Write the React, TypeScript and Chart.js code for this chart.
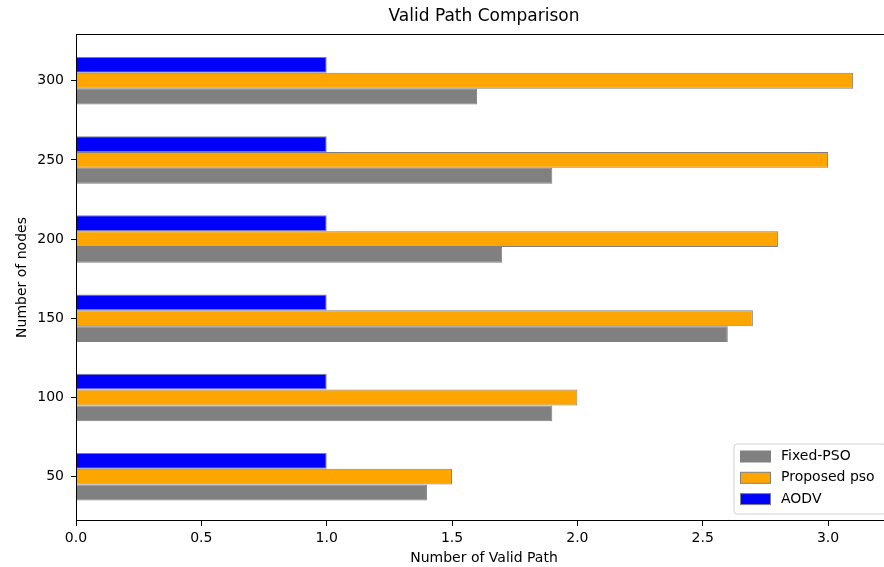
import React, { useEffect, useRef } from "react";
import { Chart, registerables } from "chart.js";

Chart.register(...registerables);

const categories = ["50", "100", "150", "200", "250", "300"];
const fixedPso = [1.4, 1.9, 2.6, 1.7, 1.9, 1.6];
const proposedPso = [1.5, 2.0, 2.7, 2.8, 3.0, 3.1];
const aodv = [1.0, 1.0, 1.0, 1.0, 1.0, 1.0];
const xTicks = [0, 0.5, 1.0, 1.5, 2.0, 2.5, 3.0];

const FONT = "'DejaVu Sans', sans-serif";

const legendItems = [
  { label: "Fixed-PSO", color: "#808080" },
  { label: "Proposed pso", color: "#FFA500" },
  { label: "AODV", color: "#0000FF" },
];

export default function App() {
  const ref = useRef<HTMLCanvasElement | null>(null);

  useEffect(() => {
    if (!ref.current) return;
    const toPts = (arr: number[]) => arr.map((v, i) => ({ x: v, y: i }));

    const decor = {
      id: "decor",
      afterDraw(chart: any) {
        const { ctx, chartArea } = chart;
        const { left, right, top, bottom } = chartArea;
        ctx.save();
        // spines
        ctx.strokeStyle = "#000";
        ctx.lineWidth = 1;
        ctx.strokeRect(left + 0.5, top + 0.5, right - left - 1, bottom - top - 1);
        // title
        ctx.fillStyle = "#000";
        ctx.font = `17px ${FONT}`;
        ctx.textAlign = "center";
        ctx.textBaseline = "middle";
        ctx.fillText("Valid Path Comparison", (left + right) / 2, 17);
        // axis titles
        ctx.font = `14px ${FONT}`;
        ctx.fillText("Number of Valid Path", (left + right) / 2, 558);
        ctx.save();
        ctx.translate(22.5, (top + bottom) / 2);
        ctx.rotate(-Math.PI / 2);
        ctx.fillText("Number of nodes", 0, 0);
        ctx.restore();
        // legend
        const bx = 734, by = 444, bw = 152, bh = 70, r = 3;
        ctx.beginPath();
        ctx.moveTo(bx + r, by);
        ctx.lineTo(bx + bw - r, by);
        ctx.arcTo(bx + bw, by, bx + bw, by + r, r);
        ctx.lineTo(bx + bw, by + bh - r);
        ctx.arcTo(bx + bw, by + bh, bx + bw - r, by + bh, r);
        ctx.lineTo(bx + r, by + bh);
        ctx.arcTo(bx, by + bh, bx, by + bh - r, r);
        ctx.lineTo(bx, by + r);
        ctx.arcTo(bx, by, bx + r, by, r);
        ctx.closePath();
        ctx.fillStyle = "rgba(255,255,255,0.8)";
        ctx.fill();
        ctx.strokeStyle = "#d0d0d0";
        ctx.stroke();
        ctx.textAlign = "left";
        legendItems.forEach((it, i) => {
          const cy = 456.5 + i * 21.3;
          ctx.fillStyle = it.color;
          ctx.fillRect(740, cy - 5.5, 31, 11);
          ctx.strokeStyle = "#808080";
          ctx.strokeRect(740.5, cy - 5.5, 30, 11);
          ctx.fillStyle = "#000";
          ctx.fillText(it.label, 781, cy);
        });
        ctx.restore();
      },
    };

    const chart = new Chart(ref.current, {
      type: "bar",
      data: {
        datasets: [
          { label: "AODV", data: toPts(aodv) as any, backgroundColor: "#0000FF", borderColor: "#808080", borderWidth: 1 },
          { label: "Proposed pso", data: toPts(proposedPso) as any, backgroundColor: "#FFA500", borderColor: "#808080", borderWidth: 1 },
          { label: "Fixed-PSO", data: toPts(fixedPso) as any, backgroundColor: "#808080", borderColor: "#808080", borderWidth: 1 },
        ],
      },
      options: {
        indexAxis: "y",
        responsive: false,
        animation: false,
        layout: { padding: { left: 0, right: 8, top: 34, bottom: 0 } },
        datasets: { bar: { categoryPercentage: 0.6, barPercentage: 1.0 } },
        plugins: { legend: { display: false }, title: { display: false }, tooltip: { enabled: false } },
        scales: {
          x: {
            type: "linear",
            min: 0,
            max: 3.255,
            offset: false,
            afterBuildTicks: (s: any) => { s.ticks = xTicks.map((v) => ({ value: v })); },
            afterFit: (s: any) => { s.height = 46; },
            grid: { offset: false, drawOnChartArea: false, drawTicks: true, tickLength: 5, tickColor: "#000" },
            border: { display: false },
            ticks: { color: "#000", font: { family: FONT, size: 14 }, padding: 4, maxRotation: 0, callback: (v: any) => Number(v).toFixed(1) },
          },
          y: {
            type: "linear",
            min: -0.56,
            max: 5.59,
            offset: false,
            afterBuildTicks: (s: any) => { s.ticks = categories.map((_, i) => ({ value: i })); },
            afterFit: (s: any) => { s.width = 76; },
            grid: { offset: false, drawOnChartArea: false, drawTicks: true, tickLength: 5, tickColor: "#000" },
            border: { display: false },
            ticks: { color: "#000", font: { family: FONT, size: 14 }, padding: 7, callback: (v: any) => categories[Math.round(Number(v))] ?? "" },
          },
        },
      },
      plugins: [decor],
    } as any);
    return () => chart.destroy();
  }, []);

  return (
    <div style={{ position: "fixed", left: 0, top: 0, width: 884, height: 567, overflow: "hidden", background: "#fff" }}>
      <canvas ref={ref} width={900} height={567} style={{ display: "block" }} />
    </div>
  );
}
